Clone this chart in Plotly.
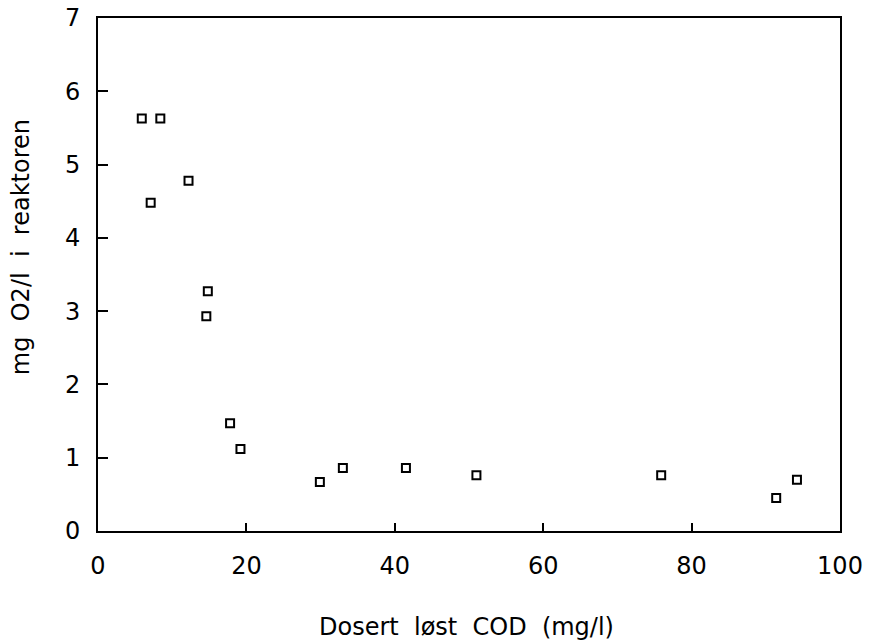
import plotly.graph_objects as go

cod = [5.9, 8.4, 7.1, 12.2, 14.8, 14.6, 17.8, 19.2, 29.9, 33.0, 41.5, 51.0, 75.9, 91.4, 94.2]
o2 = [5.63, 5.63, 4.48, 4.78, 3.27, 2.93, 1.47, 1.12, 0.67, 0.86, 0.86, 0.76, 0.76, 0.45, 0.70]

x_ticks = [0, 20, 40, 60, 80, 100]
y_ticks = [0, 1, 2, 3, 4, 5, 6, 7]

FONT = "DejaVu Sans"

fig = go.Figure()
fig.add_trace(go.Scatter(
    x=cod, y=o2, mode="markers",
    marker=dict(symbol="square-open", size=8, color="black", line=dict(width=2, color="black")),
    showlegend=False,
))

fig.update_layout(
    width=869, height=641,
    margin=dict(l=98, r=29, t=18, b=110),
    paper_bgcolor="white", plot_bgcolor="white",
    font=dict(family=FONT, color="black", size=24),
    xaxis=dict(range=[0, 100], tickvals=x_ticks, ticks="inside", ticklen=8, tickwidth=1.5,
               tickcolor="black", showline=True, linecolor="black", linewidth=2, mirror=True,
               showgrid=False, zeroline=False, tickfont=dict(size=24), ticklabelstandoff=12,
               automargin=False, ticklabeloverflow="allow"),
    yaxis=dict(range=[0, 7], tickvals=y_ticks, ticks="inside", ticklen=10, tickwidth=1.5,
               tickcolor="black", showline=True, linecolor="black", linewidth=2, mirror=True,
               showgrid=False, zeroline=False, tickfont=dict(size=24), ticklabelstandoff=11,
               automargin=False, ticklabeloverflow="allow"),
    annotations=[
        dict(text="Dosert  løst  COD  (mg/l)", xref="paper", yref="paper", x=0.497, y=-0.187,
             xanchor="center", yanchor="middle", showarrow=False, font=dict(size=24)),
        dict(text="mg  O2/l  i  reaktoren", xref="paper", yref="paper", x=-0.104, y=0.553,
             xanchor="center", yanchor="middle", textangle=-90, showarrow=False, font=dict(size=24)),
    ],
)

fig.write_html("out.html", config={"displayModeBar": False},
               post_script="document.body.style.margin='0';")
